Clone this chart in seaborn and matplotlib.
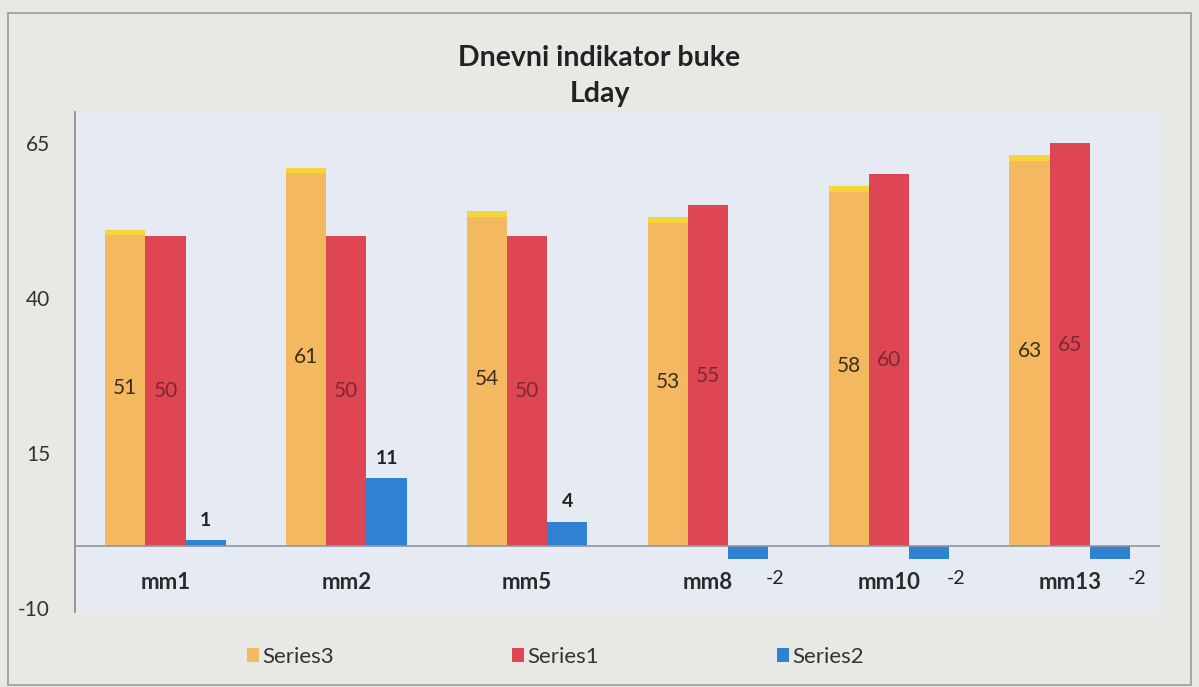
import matplotlib
matplotlib.use("Agg")
import matplotlib.pyplot as plt
import matplotlib.patches as mpatches
import seaborn as sns
import pandas as pd

categories = ["mm1", "mm2", "mm5", "mm8", "mm10", "mm13"]
series3 = [51, 61, 54, 53, 58, 63]
series1 = [50, 50, 50, 55, 60, 65]
series2 = [1, 11, 4, -2, -2, -2]
series_names = ["Series3", "Series1", "Series2"]
y_ticks = [65, 40, 15, -10]
title_text = "Dnevni indikator buke\nLday"

colors = {"Series3": "#F4B960", "Series1": "#DF4654", "Series2": "#2F81D2"}

rows = []
for name, vals in zip(series_names, [series3, series1, series2]):
    for c, v in zip(categories, vals):
        rows.append({"cat": c, "series": name, "value": v})
df = pd.DataFrame(rows)

sns.set_theme(style="white")
plt.rcParams["font.family"] = ["Lato", "DejaVu Sans"]

fig = plt.figure(figsize=(11.99, 6.87), dpi=100, facecolor="#e8e8e5")
fig.patches.append(mpatches.Rectangle((0.007, 0.003), 0.986, 0.978, transform=fig.transFigure,
                                      fill=False, edgecolor="#9a9a9a", linewidth=1.2))
ax = fig.add_axes([0.0626, 0.109, 0.905, 0.728])
ax.set_facecolor("#e5eaf3")

sns.barplot(data=df, x="cat", y="value", hue="series", hue_order=series_names,
            order=categories, palette=colors, width=0.667, saturation=1,
            ax=ax, legend=False, edgecolor="none")

ax.set_ylim(-10.6, 70)
ax.set_xlim(-0.5, len(categories) - 0.5)
ax.set_yticks(y_ticks)
ax.set_yticklabels([str(t) for t in y_ticks], fontsize=15, color="#333333")
ax.tick_params(axis="y", pad=18, length=0)
ax.set_xlabel("")
ax.set_ylabel("")
ax.set_xticks(range(len(categories)))
ax.set_xticklabels([])
for i, c in enumerate(categories):
    ax.text(i, -5.8, c, ha="center", va="center", fontsize=16, fontweight="bold", color="#2a2a2a")
ax.tick_params(axis="x", length=0)
for s in ["top", "right", "bottom"]:
    ax.spines[s].set_visible(False)
ax.spines["left"].set_color("#8a8a8a")
ax.spines["left"].set_linewidth(1.2)
ax.axhline(0, color="#8e96a0", linewidth=1.2, zorder=1)

# yellow cap on top of Series3 bars (3D look)
for bar in ax.containers[0]:
    h = bar.get_height()
    ax.add_patch(mpatches.Rectangle((bar.get_x(), h - 0.9), bar.get_width(), 0.9,
                                    facecolor="#F6D43C", edgecolor="none", zorder=bar.get_zorder() + 0.1))

label_colors = ["#3b2f1c", "#7a2a30"]
for k, cont in enumerate(ax.containers):
    if k < 2:
        ax.bar_label(cont, labels=[str(v) for v in [series3, series1][k]], label_type="center",
                     fontsize=15, color=label_colors[k])
    else:
        for bar, v in zip(cont, series2):
            if v >= 0:
                ax.annotate(str(v), (bar.get_x() + bar.get_width() / 2, v), xytext=(0, 8),
                            textcoords="offset points", ha="center", va="bottom",
                            fontsize=14, fontweight="bold", color="#222222")
            else:
                ax.annotate(str(v), (bar.get_x() + bar.get_width(), v), xytext=(-2, -14),
                            textcoords="offset points", ha="left", va="center",
                            fontsize=14, color="#222222")

fig.suptitle(title_text, x=0.5, y=0.935, fontsize=20.5, fontweight="bold", color="#222222",
             linespacing=1.5)

handles = [mpatches.Patch(facecolor=colors[n], edgecolor="none") for n in series_names]
fig.legend(handles, series_names, loc="center", bbox_to_anchor=(0.463, 0.044), ncol=3,
           frameon=False, fontsize=16, handlelength=0.55, handleheight=0.55, handletextpad=0.15,
           columnspacing=8.0, labelcolor="#333333")

fig.savefig("out.png", dpi=100, facecolor=fig.get_facecolor())
